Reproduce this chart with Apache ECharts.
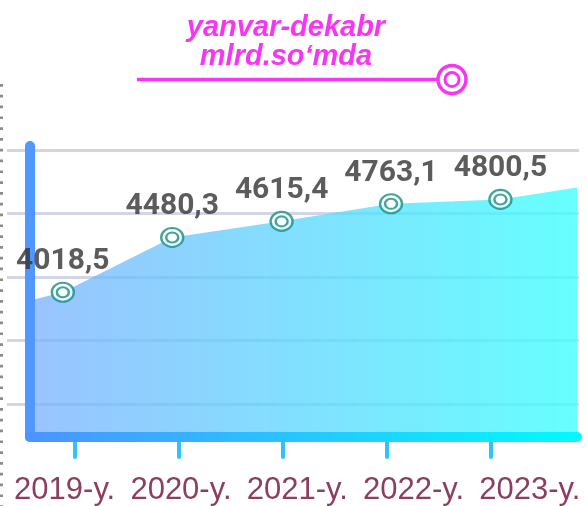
<!DOCTYPE html>
<html>
<head>
<meta charset="utf-8">
<script src="https://cdn.jsdelivr.net/npm/echarts@6/dist/echarts.min.js"></script>
<style>
  html, body { margin: 0; padding: 0; background: #fff; }
  #main { width: 588px; height: 506px; }
</style>
</head>
<body>
<div id="main"></div>
<script>
// yillar
var years = ['2019-y.', '2020-y.', '2021-y.', '2022-y.', '2023-y.'];
// yanvar-dekabr, mlrd. so'm
var values = [4018.5, 4480.3, 4615.4, 4763.1, 4800.5];
// soyali maydonning chap va o'ng chetidagi qiymatlar (rasmdan taxminiy)
var areaStart = 3950;
var areaEnd = 4900;

var xMin = -0.3, xMax = 4.7;

var myChart = echarts.init(document.getElementById('main'));

var pointData = values.map(function (v, i) { return [i, v]; });
var areaData = [[xMin, areaStart]].concat(pointData).concat([[xMax, areaEnd]]);

var magenta = '#f736f4';
var teal = '#0f8f82';

var option = {
    animation: false,
    title: {
        text: 'yanvar-dekabr\nmlrd.so\u2018mda',
        left: 286,
        top: 13,
        padding: 0,
        textAlign: 'center',
        textStyle: {
            color: magenta,
            fontSize: 29,
            fontWeight: 'bold',
            fontStyle: 'italic',
            fontFamily: 'Liberation Sans',
            lineHeight: 29
        }
    },
    graphic: [
        // chap tomondagi nuqtali chiziq
        { type: 'line', shape: { x1: 1.5, y1: 84, x2: 1.5, y2: 506 },
          style: { stroke: '#8c8c8c', lineWidth: 3, lineDash: [2.7, 8.1] } },
        // sarlavha ostidagi chiziq
        { type: 'line', shape: { x1: 137, y1: 79.5, x2: 440, y2: 79.5 },
          style: { stroke: magenta, lineWidth: 3.3 } },
        { type: 'circle', shape: { cx: 452, cy: 79.5, r: 14 },
          style: { fill: '#fff', stroke: magenta, lineWidth: 3.5 } },
        { type: 'circle', shape: { cx: 452, cy: 79.5, r: 7 },
          style: { fill: '#fff', stroke: magenta, lineWidth: 3 } }
    ],
    grid: [
        { left: 30, right: 11, top: 146, bottom: 69 },   // maydon va nuqtalar
        { left: 7, right: 9, top: 150, bottom: 102 },    // gorizontal chiziqlar
        { left: 23, right: 45, top: 146, bottom: 69 },   // belgilar (tick)
        { left: 6.5, right: -3.5, top: 146, bottom: 69 } // yil yozuvlari
    ],
    xAxis: [
        {
            gridIndex: 0, type: 'value', min: xMin, max: xMax, z: 5,
            axisLine: {
                show: true,
                lineStyle: {
                    width: 10, cap: 'round',
                    color: new echarts.graphic.LinearGradient(0, 0, 1, 0, [
                        { offset: 0, color: '#4c93ff' },
                        { offset: 1, color: '#00fbff' }
                    ])
                }
            },
            axisTick: { show: false }, axisLabel: { show: false }, splitLine: { show: false }
        },
        { gridIndex: 1, type: 'value', show: false },
        {
            gridIndex: 2, type: 'category', data: years, offset: 6,
            axisLine: { show: false },
            axisTick: {
                show: true, alignWithLabel: true, length: 20,
                lineStyle: { width: 4, cap: 'round', color: '#2fc2ff' }
            },
            axisLabel: { show: false }
        },
        {
            gridIndex: 3, type: 'category', data: years,
            axisLine: { show: false }, axisTick: { show: false },
            axisLabel: {
                interval: 0, margin: 42,
                color: '#8c3d62', fontSize: 31, fontFamily: 'Liberation Sans'
            }
        }
    ],
    yAxis: [
        {
            gridIndex: 0, type: 'value', min: 2800, max: 5250, z: 5,
            axisLine: { show: true, onZero: false, lineStyle: { width: 10, cap: 'round', color: '#5097ff' } },
            axisTick: { show: false }, axisLabel: { show: false }, splitLine: { show: false }
        },
        {
            gridIndex: 1, type: 'value', min: 0, max: 4, interval: 1,
            axisLine: { show: false }, axisTick: { show: false }, axisLabel: { show: false },
            splitLine: { show: true, lineStyle: { color: '#d2d5e3', width: 3 } }
        },
        { gridIndex: 2, type: 'value', show: false },
        { gridIndex: 3, type: 'value', show: false }
    ],
    series: [
        {
            name: 'maydon',
            type: 'line',
            xAxisIndex: 0, yAxisIndex: 0,
            data: areaData,
            symbol: 'none',
            lineStyle: { width: 0 },
            areaStyle: {
                opacity: 1,
                color: new echarts.graphic.LinearGradient(0, 0, 1, 0, [
                    { offset: 0, color: 'rgba(120,175,255,0.75)' },
                    { offset: 1, color: 'rgba(60,255,255,0.78)' }
                ])
            },
            z: 2
        },
        {
            name: 'qiymat',
            type: 'scatter',
            xAxisIndex: 0, yAxisIndex: 0,
            data: pointData,
            symbol: 'circle',
            symbolSize: [22, 19],
            itemStyle: { color: '#fff', borderColor: teal, borderWidth: 2.2 },
            label: {
                show: true,
                position: 'top',
                distance: 5,
                color: '#333',
                fontSize: 30,
                fontWeight: 'bold',
                fontFamily: 'Roboto',
                formatter: function (p) { return p.value[1].toFixed(1).replace('.', ','); }
            },
            z: 6
        },
        {
            name: 'ichki',
            type: 'scatter',
            xAxisIndex: 0, yAxisIndex: 0,
            data: pointData,
            symbol: 'circle',
            symbolSize: [12, 10],
            itemStyle: { color: '#fff', borderColor: teal, borderWidth: 2.2 },
            silent: true,
            z: 7
        }
    ]
};
myChart.setOption(option);
</script>
</body>
</html>
